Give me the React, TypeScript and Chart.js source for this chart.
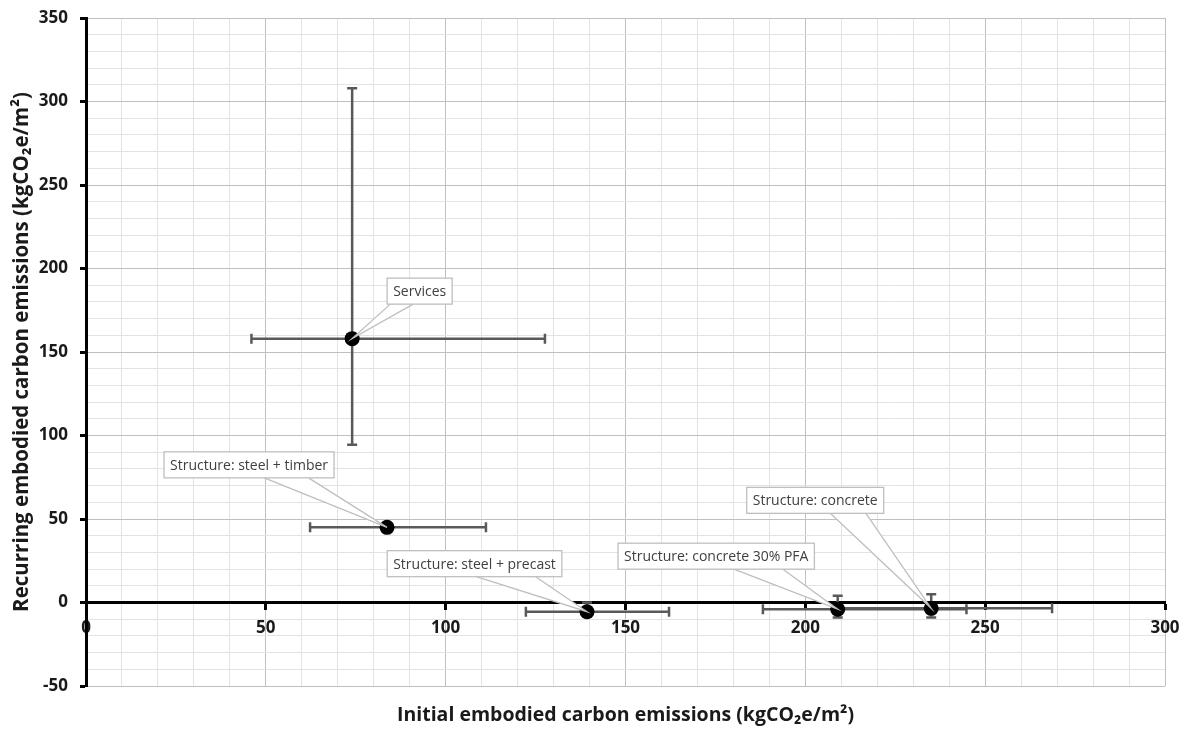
import React, { useEffect, useRef } from 'react';
import { Chart, registerables } from 'chart.js';

Chart.register(...registerables);

// ---- data ----
const pointLabels = [
  'Services',
  'Structure: steel + timber',
  'Structure: steel + precast',
  'Structure: concrete 30% PFA',
  'Structure: concrete',
];
const initialValues = [74, 83.7, 139.3, 209, 235];
const recurringValues = [158, 45, -5.5, -4, -3.5];
const initialLow = [46, 62.3, 122.3, 188.2, 209.5];
const initialHigh = [127.6, 111.2, 162.1, 244.8, 268.6];
const recurringLow = [94.5, 45, -8.5, -9, -9];
const recurringHigh = [308, 45, 0, 4, 5];

const xMin = 0;
const xMax = 300;
const yMin = -50;
const yMax = 350;
const majorStep = 50;
const minorStep = 10;

const xTitle = 'Initial embodied carbon emissions (kgCO₂e/m²)';
const yTitle = 'Recurring embodied carbon emissions (kgCO₂e/m²)';

// ---- callout layout (pixel offsets of the label box centre from its point, wedge base fractions) ----
const calloutLayout = [
  { dx: 67.5, dy: -47.5, base: [0.05, 0.4] },
  { dx: -138, dy: -62.5, base: [0.59, 0.85] },
  { dx: -112.5, dy: -48, base: [0.51, 0.85] },
  { dx: -121.5, dy: -53, base: [0.59, 0.84] },
  { dx: -116, dy: -108, base: [0.61, 0.87] },
];

const FONT = '"Open Sans", "DejaVu Sans", sans-serif';
const isMajor = (v: any) => typeof v === 'number' && Math.abs(v % majorStep) < 1e-9;

const errorBarPlugin = {
  id: 'errorBars',
  beforeDatasetsDraw(chart: any) {
    const { ctx, scales } = chart;
    const x = scales.x;
    const y = scales.y;
    const cap = 5;
    ctx.save();
    ctx.strokeStyle = '#595959';
    ctx.lineWidth = 2.5;
    for (let i = 0; i < initialValues.length; i++) {
      const px = x.getPixelForValue(initialValues[i]);
      const py = y.getPixelForValue(recurringValues[i]);
      if (initialLow[i] !== initialHigh[i]) {
        const x1 = x.getPixelForValue(initialLow[i]);
        const x2 = x.getPixelForValue(initialHigh[i]);
        ctx.beginPath();
        ctx.moveTo(x1, py);
        ctx.lineTo(x2, py);
        ctx.moveTo(x1, py - cap);
        ctx.lineTo(x1, py + cap);
        ctx.moveTo(x2, py - cap);
        ctx.lineTo(x2, py + cap);
        ctx.stroke();
      }
      if (recurringLow[i] !== recurringHigh[i]) {
        const y1 = y.getPixelForValue(recurringLow[i]);
        const y2 = y.getPixelForValue(recurringHigh[i]);
        ctx.beginPath();
        ctx.moveTo(px, y1);
        ctx.lineTo(px, y2);
        ctx.moveTo(px - cap, y1);
        ctx.lineTo(px + cap, y1);
        ctx.moveTo(px - cap, y2);
        ctx.lineTo(px + cap, y2);
        ctx.stroke();
      }
    }
    ctx.restore();
  },
};

const calloutPlugin = {
  id: 'callouts',
  afterDatasetsDraw(chart: any) {
    const { ctx, scales } = chart;
    const x = scales.x;
    const y = scales.y;
    ctx.save();
    ctx.font = `14px ${FONT}`;
    ctx.textBaseline = 'middle';
    ctx.textAlign = 'center';
    for (let i = 0; i < pointLabels.length; i++) {
      const lay = calloutLayout[i];
      const px = x.getPixelForValue(initialValues[i]);
      const py = y.getPixelForValue(recurringValues[i]);
      const w = ctx.measureText(pointLabels[i]).width + 12;
      const h = 26;
      const cx = px + lay.dx;
      const cy = py + lay.dy;
      const left = cx - w / 2;
      const top = cy - h / 2;
      const bottom = top + h;
      const b1 = left + w * lay.base[0];
      const b2 = left + w * lay.base[1];
      // wedge
      ctx.beginPath();
      ctx.moveTo(b1, bottom - 0.5);
      ctx.lineTo(px, py);
      ctx.lineTo(b2, bottom - 0.5);
      ctx.closePath();
      ctx.fillStyle = '#ffffff';
      ctx.fill();
      ctx.strokeStyle = '#bfbfbf';
      ctx.lineWidth = 1.3;
      ctx.beginPath();
      ctx.moveTo(b1, bottom);
      ctx.lineTo(px, py);
      ctx.lineTo(b2, bottom);
      ctx.stroke();
      // box
      ctx.fillStyle = '#ffffff';
      ctx.fillRect(left, top, w, h);
      ctx.strokeRect(left, top, w, h);
      ctx.fillStyle = '#404040';
      ctx.fillText(pointLabels[i], cx, cy + 1);
    }
    ctx.restore();
  },
};

const tickFont = { family: FONT, size: 17, weight: 'bold' as any };
const xTitleFont = { family: FONT, size: 19.5, weight: 'bold' as any };
const yTitleFont = { family: FONT, size: 20.5, weight: 'bold' as any };

export default function App() {
  const canvasRef = useRef<HTMLCanvasElement | null>(null);

  useEffect(() => {
    if (!canvasRef.current) return;
    const points = initialValues.map((v, i) => ({ x: v, y: recurringValues[i] }));
    const gridColor = (c: any) => (isMajor(c.tick && c.tick.value) ? '#bfbfbf' : '#e3e3e3');
    const tickColor = (c: any) => (isMajor(c.tick && c.tick.value) ? '#000000' : 'rgba(0,0,0,0)');
    const chart = new Chart(canvasRef.current, {
      type: 'scatter',
      data: {
        datasets: [
          {
            label: 'Embodied carbon',
            data: points,
            xAxisID: 'x',
            yAxisID: 'y',
            backgroundColor: '#000000',
            borderColor: '#000000',
            borderWidth: 0,
            pointRadius: 7.5,
            pointHoverRadius: 7.5,
          },
        ],
      },
      options: {
        responsive: false,
        animation: false,
        events: [],
        layout: { padding: { left: 0, top: 18, right: 24, bottom: 0 } },
        plugins: {
          legend: { display: false },
          tooltip: { enabled: false },
        },
        scales: {
          x: {
            type: 'linear',
            position: { y: 0 } as any,
            min: xMin,
            max: xMax,
            ticks: {
              stepSize: minorStep,
              autoSkip: false,
              maxRotation: 0,
              padding: 9,
              color: '#1a1a1a',
              font: tickFont,
              callback: (v: any) => (isMajor(v) ? String(v) : ''),
            },
            grid: {
              color: gridColor,
              lineWidth: 1,
              tickLength: 6,
              tickColor: tickColor,
              tickWidth: 3,
            },
            border: { color: '#000000', width: 3 },
            afterFit(scale: any) {
              scale.paddingLeft = 0;
              scale.paddingRight = 0;
            },
          },
          y: {
            type: 'linear',
            position: 'left',
            min: yMin,
            max: yMax,
            ticks: {
              stepSize: minorStep,
              autoSkip: false,
              padding: 12,
              color: '#1a1a1a',
              font: tickFont,
              callback: (v: any) => (isMajor(v) ? String(v) : ''),
            },
            grid: {
              color: gridColor,
              lineWidth: 1,
              tickLength: 6,
              tickColor: tickColor,
              tickWidth: 3,
            },
            border: { color: '#000000', width: 3 },
            title: {
              display: true,
              text: yTitle,
              color: '#1a1a1a',
              font: yTitleFont,
              padding: { top: 10, bottom: 0 },
            },
            afterFit(scale: any) {
              scale.width = 86;
              scale.paddingTop = 0;
              scale.paddingBottom = 0;
            },
          },
          x2: {
            type: 'linear',
            position: 'bottom',
            min: 0,
            max: 1,
            ticks: { display: false },
            grid: { display: false, drawTicks: false },
            border: { display: false },
            title: {
              display: true,
              text: xTitle,
              color: '#1a1a1a',
              font: xTitleFont,
              padding: { top: 0, bottom: 2 },
            },
            afterFit(scale: any) {
              scale.height = 43;
              scale.paddingLeft = 0;
              scale.paddingRight = 0;
            },
          },
        } as any,
      },
      plugins: [errorBarPlugin, calloutPlugin],
    });
    return () => chart.destroy();
  }, []);

  return (
    <div style={{ position: 'fixed', left: 0, top: 0, width: 1189, height: 729, background: '#ffffff' }}>
      <canvas ref={canvasRef} width={1189} height={729} />
    </div>
  );
}
